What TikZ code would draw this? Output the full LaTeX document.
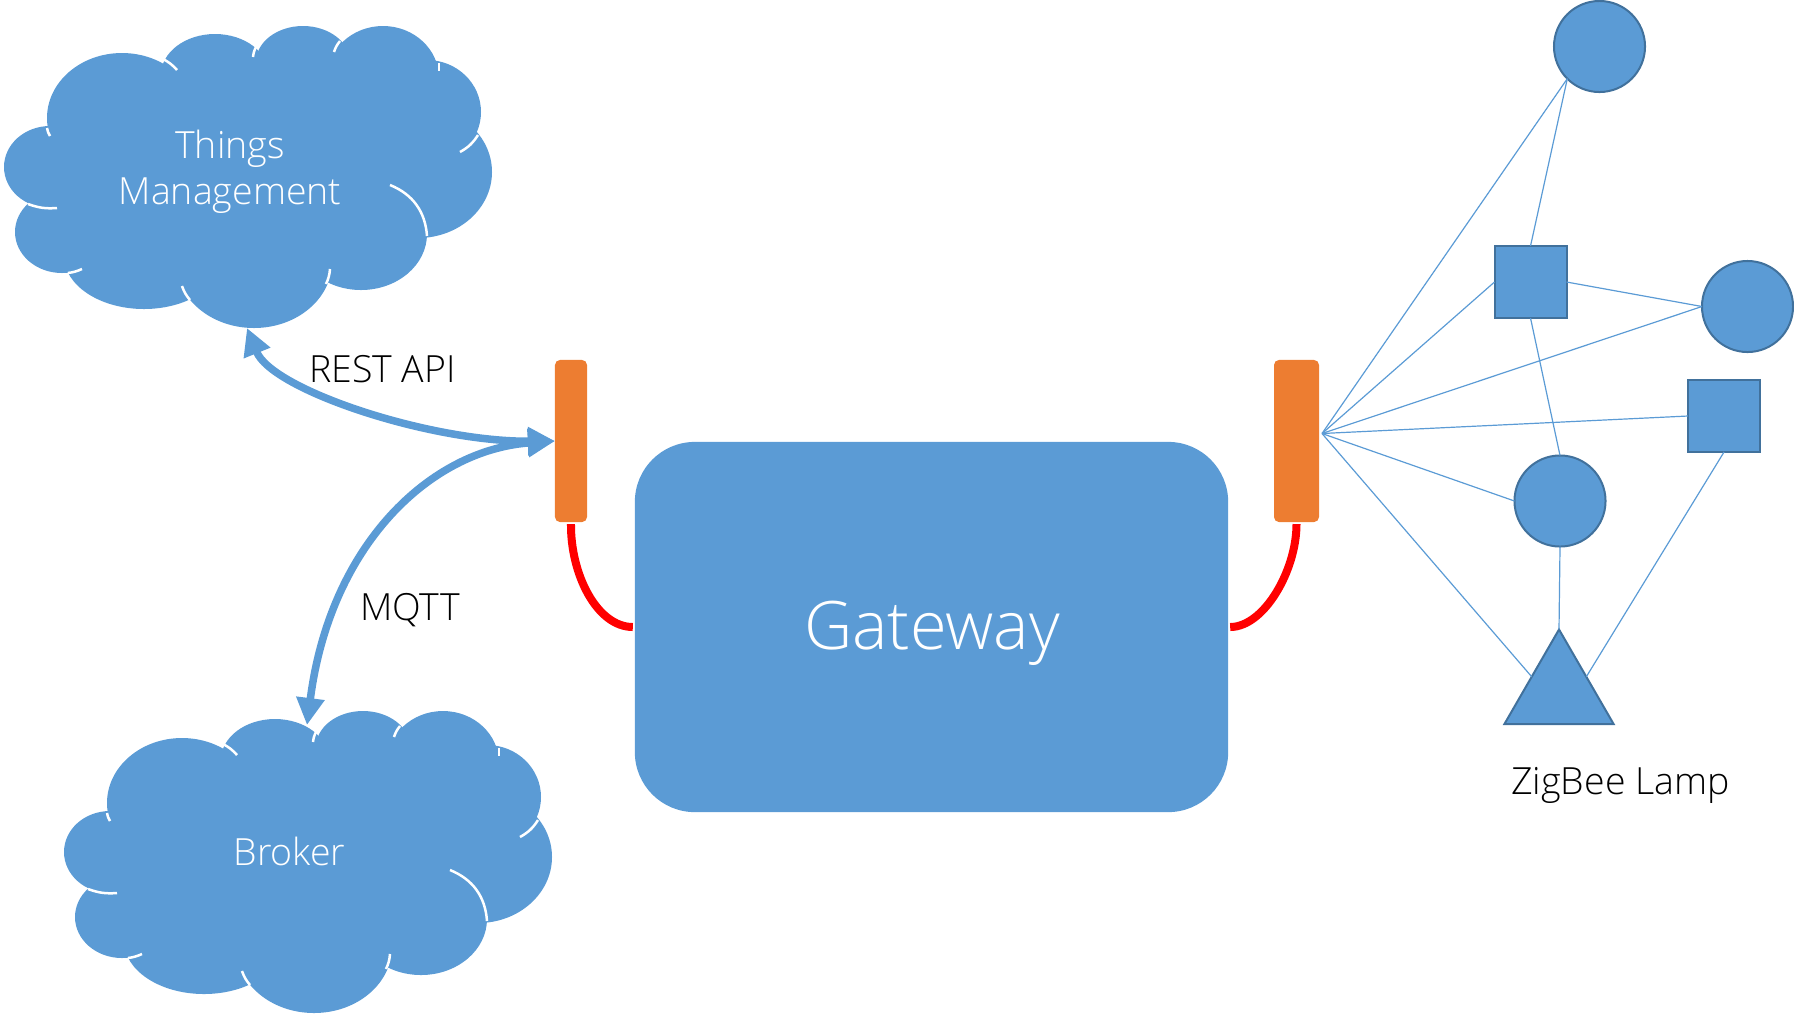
\documentclass[tikz,border=0pt]{standalone}
\RequirePackage{fontspec}
\RequirePackage{tikz}
\usetikzlibrary{arrows.meta}
\usetikzlibrary{shapes.geometric}
\setmainfont{Open Sans Light}

\definecolor{shapeblue}{HTML}{5B9BD5}
\definecolor{shapeedge}{HTML}{41719C}
\definecolor{portorange}{HTML}{ED7D31}

\tikzset{
    cloudtext/.style={text=white,font=\fontsize{10.65}{13}\selectfont,align=center,inner sep=0pt},
    blacktext/.style={text=black,font=\fontsize{10.65}{13}\selectfont,inner sep=0pt},
    crease/.style={draw=white,line width=0.025cm},
    port/.style={draw=none,fill=portorange,rounded corners=0.05cm,minimum width=0.32cm,minimum height=1.62cm,inner sep=0pt,outer sep=0pt},
    redlink/.style={draw=red,line width=0.08cm},
    bluelink/.style={draw=shapeblue,line width=0.075cm,{Triangle[length=0.27cm,width=0.27cm]}-{Triangle[length=0.27cm,width=0.27cm]}},
    thinlink/.style={draw=shapeblue,line width=0.012cm},
    lampdot/.style={circle,draw=shapeedge,fill=shapeblue,line width=0.02cm,minimum size=0.91cm,inner sep=0pt,outer sep=0pt},
    lampbox/.style={rectangle,draw=shapeedge,fill=shapeblue,line width=0.02cm,minimum size=0.72cm,inner sep=0pt,outer sep=0pt},
    lamptri/.style={regular polygon,regular polygon sides=3,draw=shapeedge,fill=shapeblue,line width=0.02cm,minimum size=1.26cm,inner sep=0pt,outer sep=0pt},
}

\newcommand{\cloudlobes}{
    \fill[shapeblue] (250,175) ellipse [x radius=178,y radius=100];
    \foreach \cx/\cy/\rx/\ry in {122/118/75/65,215/75/54/41,303/62/47/36,383/78/56/52,427/112/54/52,418/172/74/66,361/234/66/56,254/262/78/66,144/256/80/53,62/232/47/41,50/167/46/41}
        \fill[shapeblue] (\cx,\cy) ellipse [x radius=\rx,y radius=\ry];
    \foreach \ax/\ay/\bx/\by/\bnd in {50/136/47/128/10,163/59/177/70/10,253/57/256/47/10,334/52/340/41/10,439/63/439/71/6,478/135/460/152/14,390/185/427/236/32,330/269/326/284/10,190/300/182/286/10,82/269/68/273/8,57/208/28/204/12}
        \draw[crease] (\ax,\ay) to[bend left=\bnd] (\bx,\by);
}

\begin{document}
\begin{tikzpicture}[x=0.01cm,y=-0.01cm]
                \useasboundingbox (0,0) rectangle (1794,1017);

                \begin{scope}
                    \cloudlobes
                \end{scope}
                \begin{scope}[shift={(60,685)}]
                    \cloudlobes
                \end{scope}

                \node[cloudtext] (things) at (230,171.5) {Things\\Management};
                \node[cloudtext] (broker) at (289.5,851) {Broker};

                \node[fill=shapeblue,rounded corners=0.6cm,minimum width=5.93cm,minimum height=3.7cm,inner sep=0pt,outer sep=0pt] (gateway) at (931.5,627) {};
                \node[text=white,font=\fontsize{19}{22}\selectfont,inner sep=0pt] (gatewayname) at (932,633) {Gateway};

                \node[port] (portleft) at (571,441) {};
                \node[port,minimum width=0.45cm] (portright) at (1296.5,441) {};

                \draw[redlink,shorten <=0.02cm] (portleft.south) .. controls +(-0.5,52) and +(-36,0) .. ([xshift=-0.02cm]gateway.west);
                \draw[redlink,shorten <=0.02cm] (portright.south) .. controls +(0,48) and +(34,0) .. ([xshift=0.02cm]gateway.east);

                \coordinate (thingstip) at (247,328);
                \coordinate (brokertip) at (307,725);

                \draw[bluelink] (thingstip) .. controls (272,390) and (430,442) .. (portleft.west);
                \draw[bluelink] (brokertip) .. controls (330,545) and (430,450) .. (portleft.west);

                \node[blacktext] (rest) at (382.5,369) {REST API};
                \node[blacktext] (mqtt) at (410,610) {MQTT};

                \coordinate (hub) at (1322,433.5);

                \node[lampdot] (dota) at (1599.5,46.5) {};
                \node[lampbox] (boxa) at (1530.5,282) {};
                \node[lampdot] (dotb) at (1747.5,306.5) {};
                \node[lampbox] (boxb) at (1724,416) {};
                \node[lampdot] (dotc) at (1560,501) {};
                \node[lamptri] (lamp) at (1559,692.5) {};

                \draw[thinlink] (hub) -- (dota.south west);
                \draw[thinlink] (boxa.north) -- (dota.south west);
                \draw[thinlink] (hub) -- (boxa.west);
                \draw[thinlink] (boxa.east) -- (dotb.west);
                \draw[thinlink] (hub) -- (dotb.west);
                \draw[thinlink] (boxa.south) -- (dotc.north);
                \draw[thinlink] (hub) -- (boxb.west);
                \draw[thinlink] (hub) -- (dotc.west);
                \draw[thinlink] (hub) -- (lamp.side 1);
                \draw[thinlink] (boxb.south) -- (lamp.side 3);
                \draw[thinlink] (dotc.south) -- (lamp.corner 1);

                \node[blacktext] (zigbee) at (1620.5,785) {ZigBee Lamp};
\end{tikzpicture}
\end{document}
